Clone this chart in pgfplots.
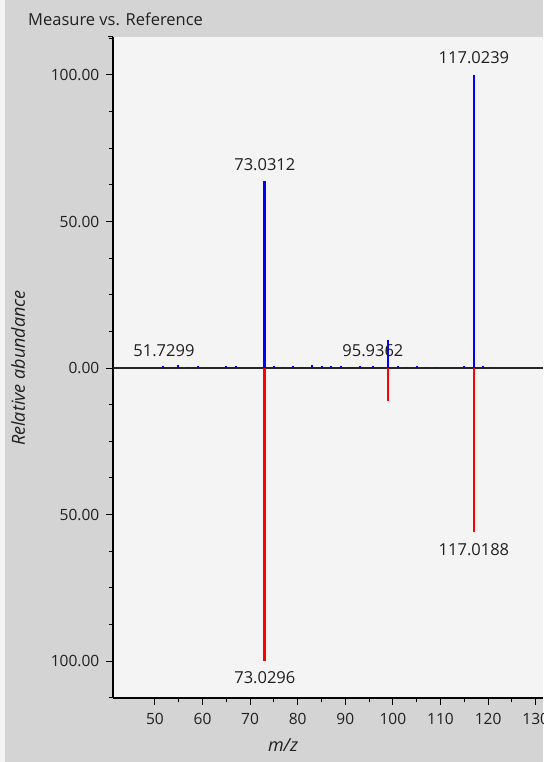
\documentclass[border=0pt]{standalone}
\usepackage{pgfplots}
\pgfplotsset{compat=1.18}
\usepackage{fontspec}
\setmainfont{Open Sans}
\definecolor{bggray}{HTML}{D4D4D4}
\definecolor{plotbg}{HTML}{F4F4F4}
\definecolor{specblue}{HTML}{0000FF}
\definecolor{specred}{HTML}{FF0000}
\definecolor{txt}{HTML}{202020}
\begin{document}
\fontsize{16.5}{19}\selectfont
\begin{tikzpicture}[x=1pt,y=1pt, every node/.style={text=txt}]
\path[use as bounding box] (0,0) rectangle (543,762);
\clip (0,0) rectangle (543,762);
\fill[bggray] (0,0) rectangle (543,762);
\fill[plotbg] (0,0) rectangle (5,762);
\node[anchor=west,inner sep=0pt] at (28,743) {Measure vs. Reference};
\begin{axis}[
  at={(113pt,64pt)}, anchor=south west,
  scale only axis, width=430pt, height=661pt,
  xmin=41.2, xmax=131.53,
  ymin=-112.6, ymax=112.97,
  axis background/.style={fill=plotbg},
  axis x line*=bottom, axis y line*=left,
  axis line style={-, line width=1.2pt, black},
  xtick={50,60,...,130},
  minor x tick num=1,
  ytick={-100,-50,0,50,100},
  yticklabels={100.00,50.00,0.00,50.00,100.00},
  minor ytick={-112.5,-87.5,-75,-62.5,-37.5,-25,-12.5,12.5,25,37.5,62.5,75,87.5,112.5},
  tick align=outside,
  major tick length=7pt, minor tick length=4.5pt,
  every tick/.style={black, line width=1pt},
  tick label style={font=\fontsize{15.5}{18}\selectfont, text=txt},
  /pgf/number format/assume math mode=true,
  xticklabel style={yshift=-3pt},
  yticklabel style={xshift=-1pt},
  clip=false,
]
% zero line
\addplot[black!85, line width=1.3pt] coordinates {(41.2,0) (131.53,0)};
% small noise peaks (measured)
\addplot[ycomb, specblue, line width=2pt] coordinates {
 (51.7,0.6) (54.8,1.2) (57.0,0.5) (59.1,0.6) (65.0,0.6) (67.0,0.7)
 (75.0,0.7) (77.0,0.5) (79.0,0.6) (81.0,0.5) (83.0,0.9) (85.0,0.6)
 (87.0,0.7) (89.0,0.7) (91.0,0.5) (93.0,0.6) (95.9,0.8) (97.0,0.5)
 (101.0,0.6) (103.0,0.5) (105.0,0.6) (107.0,0.5) (109.0,0.5)
 (115.0,0.6) (119.0,0.7) (121.0,0.5)};
% measured spectrum
\addplot[ycomb, specblue, line width=2.8pt] coordinates {
 (73.0312,63.9) (98.95,9.5) (117.0239,100)};
% reference spectrum
\addplot[ycomb, specred, line width=2.8pt] coordinates {
 (73.0296,-100) (98.95,-11.3) (117.0188,-55.9)};
\node at (axis cs:117.02,105.8) {117.0239};
\node at (axis cs:73.1,69.3) {73.0312};
\node at (axis cs:51.9,6.1) {51.7299};
\node at (axis cs:95.8,6.1) {95.9362};
\node at (axis cs:117.02,-62.1) {117.0188};
\node at (axis cs:73.1,-105.8) {73.0296};
\end{axis}
\draw[black, line width=1pt] (113,725) -- (108,725);
\node[rotate=90, font=\itshape\fontsize{18}{20}\selectfont] at (18,394) {Relative abundance};
\node[font=\itshape\fontsize{18}{20}\selectfont] at (283,17) {m/z};
\end{tikzpicture}
\end{document}
